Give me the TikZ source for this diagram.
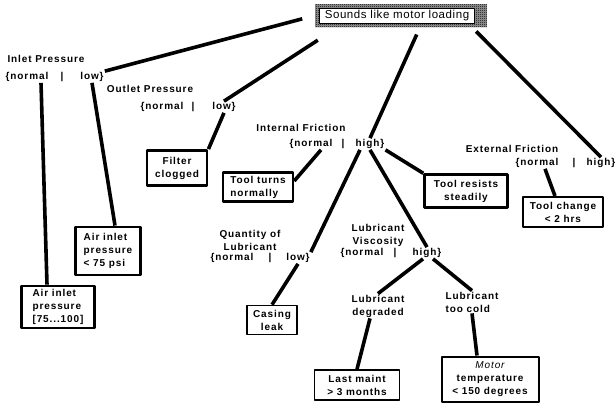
\documentclass[tikz,border=0pt]{standalone}
\usepackage{fontspec}
\setmainfont{Liberation Sans}[LetterSpace=9]
\newfontfamily\rootfont{Liberation Sans}[LetterSpace=5]
\usetikzlibrary{patterns}
\pgfdeclarepatternformonly{finechecker}{\pgfpointorigin}{\pgfqpoint{2pt}{2pt}}%
  {\pgfqpoint{2pt}{2pt}}{%
  \pgfpathrectangle{\pgfpointorigin}{\pgfqpoint{1pt}{1pt}}%
  \pgfpathrectangle{\pgfqpoint{1pt}{1pt}}{\pgfqpoint{1pt}{1pt}}%
  \pgfusepath{fill}}

\begin{document}
\begin{tikzpicture}[
  x=1pt, y=-1pt, line join=round,
  font=\fontsize{10}{13}\selectfont\bfseries,
  lbl/.style={inner sep=1pt, align=center},
  opt/.style={inner sep=1pt},
  box/.style={draw, line width=2.9pt, inner sep=2pt, align=center},
  thinbox/.style={box, line width=1.6pt},
  link/.style={line width=3.6pt},
  rootframe/.style={fill=black!40, postaction={pattern=finechecker, pattern color=black},
                    minimum width=172pt, minimum height=23pt, inner sep=0pt},
  roottxt/.style={draw, fill=white, line width=0.6pt, inner sep=1pt,
                  minimum width=155pt, minimum height=15pt,
                  font=\rootfont\fontsize{11.5}{12}\selectfont}]
\useasboundingbox (0,0) rectangle (616,405);

% ==================================================== top
\node[rootframe] (root) at (401,15.5) {};
\node[roottxt] (roottxt) at (397,15.5) {Sounds like motor loading};

% ==================================================== decisions
\node[lbl] (inT) at (46,59) {Inlet Pressure};
\node[opt] (inN) at (27,77) {\{normal};
\node[opt] (inB) at (62,77) {|};
\node[opt] (inL) at (92,77) {low\}};

\node[lbl] (outT) at (150,89) {Outlet Pressure};
\node[opt] (outN) at (162,107) {\{normal};
\node[opt] (outB) at (193,107) {|};
\node[opt] (outL) at (224,107) {low\}};

\node[lbl] (intT) at (301,128) {Internal Friction};
\node[opt] (intN) at (311,144) {\{normal};
\node[opt] (intB) at (343,144) {|};
\node[opt] (intH) at (370,144) {high\}};

\node[lbl] (extT) at (512,149) {External Friction};
\node[opt] (extN) at (537,163) {\{normal};
\node[opt] (extB) at (574,163) {|};
\node[opt] (extH) at (601,163) {high\}};

\node[lbl] (qtyT) at (250,240) {Quantity of\\Lubricant};
\node[opt] (qtyN) at (232,258) {\{normal};
\node[opt] (qtyB) at (270,258) {|};
\node[opt] (qtyL) at (298,258) {low\}};

\node[lbl] (viscT) at (378,235) {Lubricant\\Viscosity};
\node[opt] (viscN) at (362,253) {\{normal};
\node[opt] (viscB) at (395,253) {|};
\node[opt] (viscH) at (427,253) {high\}};

\node[lbl] (degr) at (378,306) {Lubricant\\degraded};
\node[lbl, align=left] (cold) at (472,302) {Lubricant\\too cold};

% ==================================================== findings
\node[box, align=left, minimum width=73pt, minimum height=42pt] (air2)
  at (58,307) {Air inlet\\pressure\\{[75...100]}};
\node[box, align=left, minimum width=65pt, minimum height=48pt] (air1)
  at (108,251) {Air inlet\\pressure\\< 75 psi};
\node[box, minimum width=60pt, minimum height=35pt] (filter)
  at (177,168) {Filter\\clogged};
\node[box, align=left, line width=2.4pt, minimum width=70pt, minimum height=29pt]
  (turns) at (258,187) {Tool turns\\normally};
\node[box, line width=2.4pt, minimum width=83pt, minimum height=33pt] (resists)
  at (466,191) {Tool resists\\steadily};
\node[box, line width=2pt, minimum width=80pt, minimum height=30pt] (change)
  at (563,212) {Tool change\\< 2 hrs};
\node[thinbox, minimum width=50pt, minimum height=29pt] (casing)
  at (272,320) {Casing\\leak};
\node[thinbox, minimum width=85pt, minimum height=30pt] (maint)
  at (357,385) {Last maint\\> 3 months};
\node[box, line width=2pt, minimum width=97pt, minimum height=45pt] (motor)
  at (490,379) {{\mdseries\itshape Motor}\\temperature\\< 150 degrees};

% ==================================================== connectors
\draw[link, shorten <=13pt] (root.west) -- (inL.north east);
\draw[link] ([xshift=3pt,yshift=-13pt]root.south west) -- (outL.north);
\draw[link, shorten <=8pt] ([xshift=19pt]root.south) -- (intH.north);
\draw[link, shorten <=6pt] ([xshift=71pt]root.south) -- (extH.north);

\draw[link] ([xshift=14pt]inN.south) -- ([xshift=-11pt]air2.north);
\draw[link] (inL.south) -- ([xshift=7pt]air1.north);
\draw[link] (outL.south) -- (filter.north east);

\draw[link] ([xshift=10pt]intN.south) -- ([yshift=6pt]turns.east);
\draw[link] ([xshift=-10pt]intH.south) -- (qtyL.north east);
\draw[link] (intH.south) -- (viscH.north);
\draw[link] (intH.south east) -- (resists.north west);
\draw[link] ([xshift=8pt]extN.south) -- ([xshift=-8pt]change.north);

\draw[link] (qtyL.south) -- (casing.north);
\draw[link] ([xshift=-4pt]viscH.south) -- (degr.north);
\draw[link] ([xshift=6pt]viscH.south) -- (cold.north);
\draw[link] ([xshift=-8pt]degr.south) -- (maint.north);
\draw[link] (cold.south) -- ([xshift=-13pt]motor.north);

\end{tikzpicture}
\end{document}
